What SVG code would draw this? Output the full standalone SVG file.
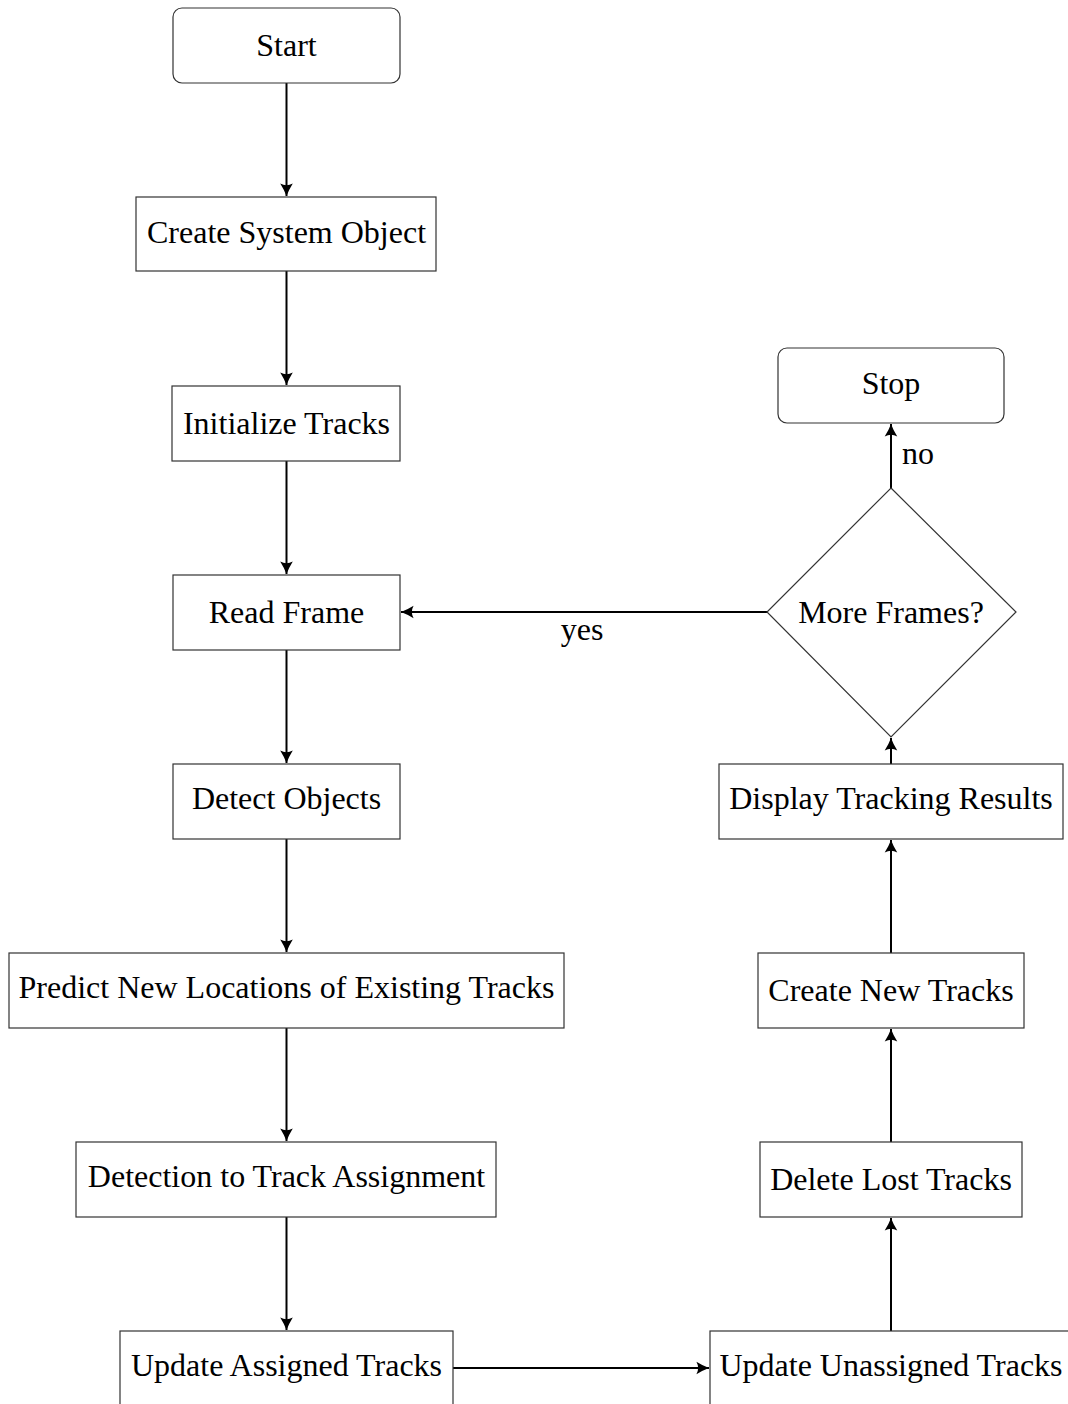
<svg xmlns="http://www.w3.org/2000/svg" width="1068" height="1404" viewBox="0 0 1068 1404">
<style>
.box{fill:#fff;stroke:#333;stroke-width:1.2}
.lbl{font-family:"Liberation Serif","Times New Roman",serif;font-size:32px;fill:#000;text-anchor:middle}
.edge{stroke:#000;stroke-width:2;fill:none;marker-end:url(#arr)}
</style>
<defs>
<marker id="arr" markerUnits="userSpaceOnUse" markerWidth="16" markerHeight="16" viewBox="-12 -7 14 14" refX="0" refY="0" orient="auto">
<path d="M-11,-5.5 Q-5,-1.8 0,0 Q-5,1.8 -11,5.5 Q-8,0 -11,-5.5 Z" fill="#000"/>
</marker>
</defs>
<rect width="1068" height="1404" fill="#fff"/>
<g id="connectors">
<line class="edge" x1="286.5" y1="83" x2="286.5" y2="196"/>
<line class="edge" x1="286.5" y1="271" x2="286.5" y2="385"/>
<line class="edge" x1="286.5" y1="461" x2="286.5" y2="574"/>
<line class="edge" x1="286.5" y1="650" x2="286.5" y2="763"/>
<line class="edge" x1="286.5" y1="839" x2="286.5" y2="952"/>
<line class="edge" x1="286.5" y1="1028" x2="286.5" y2="1141"/>
<line class="edge" x1="286.5" y1="1217" x2="286.5" y2="1330"/>
<line class="edge" x1="453" y1="1368" x2="709" y2="1368"/>
<line class="edge" x1="891" y1="1331" x2="891" y2="1218"/>
<line class="edge" x1="891" y1="1142" x2="891" y2="1029"/>
<line class="edge" x1="891" y1="953" x2="891" y2="840"/>
<line class="edge" x1="891" y1="764" x2="891" y2="738"/>
<line class="edge" x1="891" y1="488" x2="891" y2="424"/>
<line class="edge" x1="767" y1="612" x2="401" y2="612"/>
<text class="lbl" x="918" y="464">no</text>
<text class="lbl" x="582" y="640">yes</text>
</g>
<g id="start"><rect class="box" x="173" y="8" width="227" height="75" rx="9"/><text class="lbl" x="286.5" y="56">Start</text></g>
<g id="create-system-object"><rect class="box" x="136" y="197" width="300" height="74"/><text class="lbl" x="286.5" y="243">Create System Object</text></g>
<g id="initialize-tracks"><rect class="box" x="172" y="386" width="228" height="75"/><text class="lbl" x="286.5" y="434">Initialize Tracks</text></g>
<g id="read-frame"><rect class="box" x="173" y="575" width="227" height="75"/><text class="lbl" x="286.5" y="623">Read Frame</text></g>
<g id="detect-objects"><rect class="box" x="173" y="764" width="227" height="75"/><text class="lbl" x="286.5" y="809">Detect Objects</text></g>
<g id="predict"><rect class="box" x="9" y="953" width="555" height="75"/><text class="lbl" x="286.5" y="998">Predict New Locations of Existing Tracks</text></g>
<g id="assignment"><rect class="box" x="76" y="1142" width="420" height="75"/><text class="lbl" x="286.5" y="1187">Detection to Track Assignment</text></g>
<g id="update-assigned"><rect class="box" x="120" y="1331" width="333" height="90"/><text class="lbl" x="286.5" y="1376">Update Assigned Tracks</text></g>
<g id="update-unassigned"><rect class="box" x="710" y="1331" width="362" height="90"/><text class="lbl" x="891" y="1376">Update Unassigned Tracks</text></g>
<g id="delete-lost"><rect class="box" x="760" y="1142" width="262" height="75"/><text class="lbl" x="891" y="1190">Delete Lost Tracks</text></g>
<g id="create-new"><rect class="box" x="758" y="953" width="266" height="75"/><text class="lbl" x="891" y="1001">Create New Tracks</text></g>
<g id="display"><rect class="box" x="719" y="764" width="344" height="75"/><text class="lbl" x="891" y="809">Display Tracking Results</text></g>
<g id="more-frames"><polygon class="box" points="891,488 1016,612 891,737 767,612"/><text class="lbl" x="891" y="623">More Frames?</text></g>
<g id="stop"><rect class="box" x="778" y="348" width="226" height="75" rx="9"/><text class="lbl" x="891" y="394">Stop</text></g>
</svg>
